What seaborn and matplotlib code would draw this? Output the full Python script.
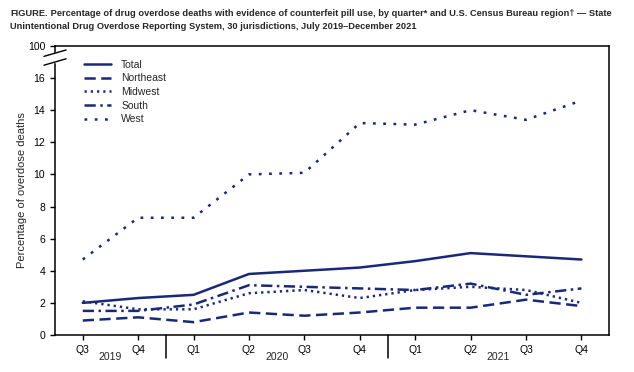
import matplotlib
matplotlib.use("Agg")
import matplotlib.pyplot as plt
import seaborn as sns
import pandas as pd

quarters = ["Q3", "Q4", "Q1", "Q2", "Q3", "Q4", "Q1", "Q2", "Q3", "Q4"]
years = ["2019", "2020", "2021"]
regions = ["Total", "Northeast", "Midwest", "South", "West"]
total = [2.0, 2.3, 2.5, 3.8, 4.0, 4.2, 4.6, 5.1, 4.9, 4.7]
northeast = [0.9, 1.1, 0.8, 1.4, 1.2, 1.4, 1.7, 1.7, 2.2, 1.8]
midwest = [2.1, 1.6, 1.6, 2.6, 2.8, 2.3, 2.8, 3.0, 2.8, 2.0]
south = [1.5, 1.5, 1.9, 3.1, 3.0, 2.9, 2.8, 3.2, 2.5, 2.9]
west = [4.7, 7.3, 7.3, 10.0, 10.1, 13.2, 13.1, 14.0, 13.4, 14.6]

series = dict(zip(regions, [total, northeast, midwest, south, west]))
rows = []
for name, vals in series.items():
    for i, v in enumerate(vals):
        rows.append({"quarter": i, "value": v, "region": name})
df = pd.DataFrame(rows)

navy = "#1a2878"
sns.set_style("ticks")
plt.rcParams["font.family"] = ["Liberation Sans", "DejaVu Sans"]

fig = plt.figure(figsize=(6.34, 3.72), dpi=100)
ax = fig.add_axes([0.0868, 0.0995, 0.874, 0.777])

dashes = {
    "Total": "",
    "Northeast": (4.5, 2.2),
    "Midwest": (0.9, 1.6),
    "South": (4.5, 1.8, 1.0, 1.8),
    "West": (1.1, 3.0),
}
sns.lineplot(data=df, x="quarter", y="value", hue="region", style="region",
             hue_order=regions, style_order=regions,
             palette=[navy] * 5, dashes=dashes, linewidth=1.8, ax=ax)

ax.set_xlim(-0.5, 9.5)
ax.set_ylim(0, 18)
ax.set_yticks([0, 2, 4, 6, 8, 10, 12, 14, 16, 18])
ax.set_yticklabels(["0", "2", "4", "6", "8", "10", "12", "14", "16", "100"])
ax.set_xticks(range(10))
ax.set_xticklabels(quarters)
ax.tick_params(labelsize=7.5, length=3.5, width=1, colors="black")
ax.set_xlabel("")
ax.set_ylabel("Percentage of overdose deaths", fontsize=8)
ax.yaxis.set_label_coords(-0.05, 0.5)
for s in ax.spines.values():
    s.set_linewidth(1.1)
    s.set_color("black")

# axis break on the left spine
ax.add_patch(plt.Rectangle((-0.02, 17.0), 0.04, 0.55, transform=ax.get_yaxis_transform(),
                           color="white", clip_on=False, zorder=5))
for yb in (17.0, 17.55):
    ax.plot([-0.02, 0.02], [yb - 0.2, yb + 0.2], transform=ax.get_yaxis_transform(),
            color="black", lw=1, clip_on=False, zorder=6)

# year separators and labels
for xs in (1.5, 5.5):
    ax.plot([xs, xs], [0, -0.08], transform=ax.get_xaxis_transform(),
            color="black", lw=1.1, clip_on=False)
for xc, yr in zip([0.5, 3.5, 7.5], years):
    ax.text(xc, -0.06, yr, transform=ax.get_xaxis_transform(),
            ha="center", va="top", fontsize=7.5)

leg = ax.legend(loc="upper left", bbox_to_anchor=(0.035, 0.985), frameon=False,
                fontsize=7.5, handlelength=2.6, handletextpad=1.0,
                labelspacing=0.35, title=None)

t1 = fig.text(0.016, 0.975, "FIGURE.", fontsize=6.7, fontweight="bold", va="top", ha="left")
t2 = ax.annotate(" Percentage of drug overdose deaths with evidence of counterfeit pill use, "
                 "by quarter* and U.S. Census Bureau region\u2020 \u2014 State",
                 xy=(1, 0), xycoords=t1, va="bottom", ha="left", fontsize=6.7,
                 fontweight="bold", annotation_clip=False)
fig.text(0.016, 0.94, "Unintentional Drug Overdose Reporting System, 30 jurisdictions, "
         "July 2019\u2013December 2021", fontsize=6.7, fontweight="bold", va="top", ha="left")

fig.savefig("out.png", dpi=100)
